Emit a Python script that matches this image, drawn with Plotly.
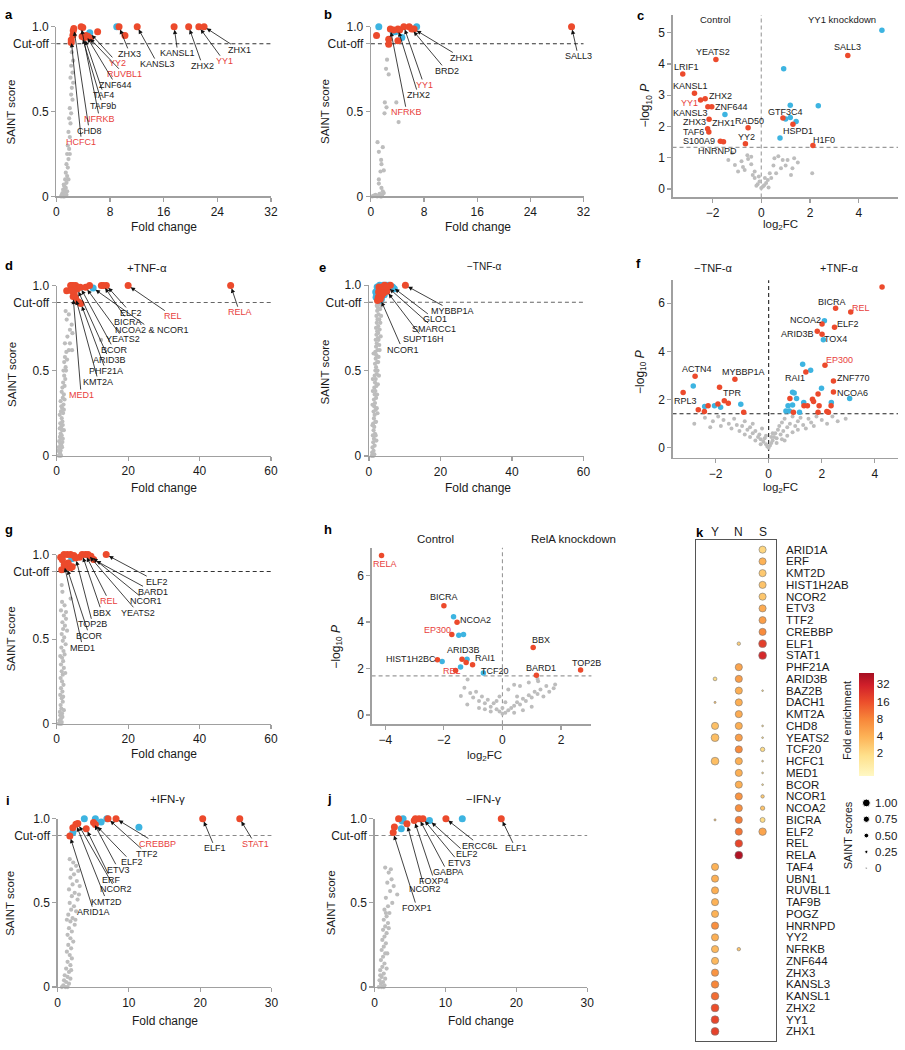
import math
import plotly.graph_objects as go

W, H = 905, 1050
FONT = "Liberation Sans, Arial, Helvetica, sans-serif"
RED = "#EC4A2C"
BLUE = "#3DB4E1"
GRAY = "#BDBDBD"
LRED = "#E8413B"
AXC = "#A0A0A0"
TXT = "#1a1a1a"

# ======================= DATA =======================
# ---- a : SAINT score vs fold change (control) ----
a_gray = [(2.3,0.85),(2.5,0.80),(2.2,0.77),(2.4,0.73),(2.1,0.70),(2.5,0.67),(2.3,0.64),(2.2,0.60),(2.4,0.57),
          (2.0,0.52),(2.2,0.49),(1.9,0.46),(2.1,0.43),(1.8,0.38),(2.0,0.35),(1.7,0.30),(1.9,0.28),(1.6,0.25),
          (1.8,0.22),(1.5,0.19),(1.7,0.17),(1.4,0.14),(1.6,0.12),(1.3,0.10),(1.5,0.08),(1.2,0.06),(1.4,0.05),
          (1.0,0.04),(1.3,0.03),(0.9,0.02),(1.1,0.01),(0.7,0.0),(1.0,0.0),(1.2,0.0),(1.5,0.01),(0.8,0.01),
          (1.6,0.03),(1.8,0.10),(1.1,0.07),(2.0,0.25)]
a_red = [(2.51,0.977),(2.60,0.99),(2.21,0.922),(2.21,0.907),(2.46,0.95),(3.69,1.0),(3.93,0.996),(3.83,0.942),
         (4.18,0.936),(4.42,0.948),(4.72,0.942),(5.06,0.932),(6.15,0.971),(9.34,1.0),(10.22,0.948),(12.05,1.0),
         (17.55,1.0),(19.72,1.0),(21.24,1.0),(22.02,1.0)]
a_blue = [(4.97,0.965),(9.0,1.0)]
a_labels = [("ZHX1",22.02,1.0),("YY1",21.24,1.0),("ZHX2",19.72,1.0),("KANSL1",17.55,1.0),("KANSL3",12.05,1.0),
            ("ZHX3",9.34,1.0),("YY2",4.97,0.965),("RUVBL1",4.72,0.942),("ZNF644",4.42,0.948),("TAF4",4.18,0.936),
            ("TAF9b",3.83,0.942),("NFRKB",3.69,1.0),("CHD8",2.60,0.99),("HCFC1",2.21,0.922)]
a_red_names = {"YY1","YY2","RUVBL1","NFRKB","HCFC1"}

# ---- b : SAINT (YY1 knockdown) ----
b_gray = [(2.43,0.806),(2.28,0.752),(2.68,0.719),(2.10,0.554),(2.35,0.525),(2.05,0.49),(3.83,0.554),(4.17,0.438),
          (1.0,0.32),(1.2,0.263),(1.79,0.29),(1.54,0.215),(1.59,0.19),(1.94,0.153),(1.45,0.147),(1.2,0.10),
          (1.2,0.076),(1.59,0.05),(1.79,0.03),(0.7,0.01),(0.2,0.0),(0.95,0.0),(1.45,0.0),(1.7,0.01),(1.94,0.02),
          (0.45,0.005),(1.3,0.015),(1.1,0.005),(1.6,0.0),(0.8,0.003)]
b_red = [(0.85,0.948),(2.68,0.926),(2.68,0.897),(2.93,0.986),(3.42,0.98),(4.07,0.986),(4.32,0.98),(4.07,0.917),
         (4.96,1.0),(5.76,1.0),(6.15,0.986),(6.5,0.986),(30.2,1.0)]
b_blue = [(1.19,1.0),(3.67,0.971),(3.32,0.971),(4.66,0.936),(6.89,1.0)]
b_labels = [("SALL3",30.2,1.0),("ZHX1",6.5,0.986),("BRD2",6.15,0.986),("YY1",4.96,1.0),("ZHX2",4.07,0.986),
            ("NFRKB",2.93,0.986)]
b_red_names = {"YY1","NFRKB"}

# ---- c : volcano Control vs YY1 knockdown ----
c_gray = [(-1.35,0.93),(-1.08,0.77),(-0.81,0.89),(-0.57,1.08),(-0.41,0.79),(-0.27,0.56),(-0.68,0.61),(-0.95,0.56),
          (-0.27,0.35),(-0.07,0.24),(0.07,0.08),(0.0,0.03),(0.2,0.19),(0.27,0.29),(0.41,0.35),(0.61,0.5),
          (0.81,0.66),(0.54,0.98),(0.88,0.93),(1.08,0.93),(1.35,0.98),(1.28,0.66),(1.22,0.45),(2.09,0.5),
          (-0.41,1.03),(-0.54,0.96),(-0.15,0.15),(0.12,0.12),(-0.35,0.45),(0.35,0.5),(0.5,0.75),(-0.2,0.1),
          (0.3,0.05),(-0.1,0.4),(0.15,0.35),(0.7,1.05),(1.0,0.75),(1.5,0.85),(-1.2,1.15),(-0.75,0.7)]
c_red = [(3.55,4.27),(-1.86,4.14),(-3.22,3.68),(-2.74,3.06),(-2.49,2.85),(-2.30,2.89),(-2.19,2.63),(-2.03,2.63),
         (-2.14,2.23),(-0.54,1.96),(-2.2,1.93),(-2.15,1.82),(-1.68,1.53),(-1.55,1.51),(-0.65,1.45),(0.89,2.27),
         (1.30,2.07),(2.12,1.39)]
c_blue = [(4.95,5.08),(0.92,3.85),(1.19,2.68),(2.34,2.66),(1.19,2.29),(1.0,2.24),(1.43,2.16),(0.77,1.63),(-1.49,2.38)]
c_labels = [("SALL3",3.55,4.53),("YEATS2",-1.96,4.38),("LRIF1",-3.08,3.89),("KANSL1",-2.92,3.28),("YY1",-2.93,2.74),
            ("ZHX2",-1.69,2.96),("ZNF644",-1.24,2.63),("KANSL3",-2.9,2.44),("ZHX3",-2.74,2.14),("ZHX1",-1.55,2.1),
            ("RAD50",-0.47,2.19),("TAF6",-2.77,1.81),("S100A9",-2.57,1.53),("YY2",-0.61,1.66),("HNRNPD",-1.78,1.22),
            ("GTF3C4",1.01,2.47),("HSPD1",1.51,1.87),("H1F0",2.57,1.56)]
c_red_names = {"YY1"}
c_cut = 1.33

# ---- d : SAINT +TNF-a ----
d_gray = [(2.5,0.85),(3.4,0.83),(2.8,0.8),(4.2,0.77),(3.7,0.74),(4.4,0.72),(3.7,0.66),(4.3,0.62),(3.4,0.62),
          (12.4,0.68),(2.3,0.58),(2.9,0.565),(2.5,0.52),(2.1,0.47),(2.4,0.45),(1.8,0.43),(2.2,0.41),(1.4,0.375),
          (2.0,0.36),(1.7,0.34),(1.1,0.32),(1.9,0.3),(1.5,0.28),(1.2,0.26),(1.8,0.25),(0.85,0.24),(1.4,0.22),
          (1.6,0.2),(1.0,0.19),(1.3,0.17),(0.85,0.16),(1.5,0.15),(1.1,0.13),(1.4,0.12),(0.9,0.11),(1.2,0.1),
          (0.7,0.085),(1.0,0.07),(1.3,0.06),(0.6,0.05),(0.9,0.04),(1.1,0.03),(0.5,0.03),(0.8,0.02),(1.0,0.01),
          (1.2,0.0),(0.6,0.0),(0.9,0.0),(1.5,0.05),(1.7,0.1),(2.0,0.15),(1.6,0.4),(2.6,0.5),(3.0,0.7),(2.3,0.66),
          (2.0,0.27),(1.7,0.18),(2.2,0.33),(1.3,0.29),(1.6,0.08),(2.7,0.61),(2.1,0.55),(1.9,0.5)]
d_red = [(2.8,0.97),(3.9,1.0),(4.3,1.0),(4.6,1.0),(5.3,1.0),(5.75,0.98),(6.6,0.99),(4.6,0.935),(5.27,0.93),
         (4.9,0.95),(6.0,0.905),(6.76,0.895),(8.1,0.99),(9.2,1.0),(12.5,1.0),(13.1,1.0),(13.9,1.0),(20.0,1.0),
         (48.7,1.0),(4.2,0.97)]
d_blue = [(10.2,0.985)]
d_labels = [("RELA",48.7,1.0),("REL",20.0,1.0),("ELF2",13.9,1.0),("BICRA",13.1,1.0),("NCOA2 & NCOR1",10.2,0.985),
            ("YEATS2",8.1,0.99),("BCOR",6.6,0.99),("ARID3B",5.75,0.98),("PHF21A",6.76,0.895),("KMT2A",5.27,0.93),
            ("MED1",4.6,0.935)]
d_red_names = {"RELA","REL","MED1"}

# ---- e : SAINT -TNF-a ----
e_gray = [(0.8,0.0),(1.2,0.0),(1.5,0.01),(0.9,0.02),(1.3,0.03),(1.0,0.05),(1.6,0.06),(1.2,0.08),(1.4,0.1),
          (1.1,0.12),(1.7,0.13),(1.3,0.15),(1.5,0.17),(1.2,0.19),(1.8,0.2),(1.4,0.22),(1.6,0.24),(1.3,0.26),
          (1.9,0.27),(1.5,0.29),(1.7,0.31),(1.4,0.33),(2.0,0.34),(1.6,0.36),(1.8,0.38),(1.5,0.4),(2.1,0.41),
          (1.7,0.43),(1.9,0.45),(1.6,0.47),(2.2,0.48),(1.8,0.5),(2.0,0.52),(1.7,0.54),(2.3,0.55),(1.9,0.57),
          (2.1,0.59),(1.8,0.61),(2.4,0.62),(2.0,0.64),(2.2,0.66),(1.9,0.68),(2.5,0.69),(2.1,0.71),(2.3,0.73),
          (2.0,0.75),(2.6,0.76),(2.2,0.78),(2.4,0.8),(2.1,0.82),(2.7,0.83),(2.3,0.85),(2.5,0.87),(2.2,0.88),
          (2.8,0.89),(1.0,0.3),(1.1,0.45),(1.3,0.6),(2.9,0.8),(3.1,0.86),(2.6,0.72),(2.9,0.65),(2.4,0.5),
          (3.2,0.78),(2.7,0.58),(2.5,0.42),(2.8,0.47),(2.3,0.36),(2.6,0.55),(3.0,0.62),(3.3,0.7),(2.7,0.68),
          (3.0,0.74),(3.4,0.82),(2.0,0.2),(2.2,0.28),(1.9,0.12),(2.4,0.25),(2.1,0.09),(1.0,0.18),(1.1,0.38),
          (3.5,0.88),(2.9,0.86)]
e_red = [(10.2,1.0),(6.0,1.0),(5.2,0.99),(4.6,0.98),(4.0,0.97),(3.5,0.96),(3.0,0.95),(2.6,0.93),(2.4,0.91),
         (3.2,0.92),(3.8,0.99),(4.4,1.0),(2.8,0.99),(3.4,0.975),(5.0,0.965),(2.7,0.96),(3.6,0.94),(4.1,0.955),
         (4.9,0.99)]
e_blue = [(1.9,0.96),(2.0,0.93),(2.3,0.99),(3.0,1.0),(4.0,1.0),(4.8,1.0),(5.6,1.0),(7.1,0.98),(6.6,0.99),
          (3.5,0.92),(2.2,0.95),(2.9,0.91),(4.3,0.945)]
e_labels = [("MYBBP1A",10.2,1.0),("GLO1",6.6,0.99),("SMARCC1",5.2,0.99),("SUPT16H",5.0,0.965),("NCOR1",3.2,0.92)]
e_red_names = set()

# ---- f : volcano -TNF vs +TNF ----
f_gray = [(-2.4,1.25),(-2.1,1.1),(-1.9,1.3),(-1.7,1.15),(-1.5,1.0),(-1.3,1.2),(-1.2,0.95),(-1.0,0.9),(-0.9,1.1),
          (-0.8,0.75),(-0.7,0.85),(-0.6,0.6),(-0.5,0.7),(-0.4,0.45),(-0.35,0.55),(-0.3,0.35),(-0.2,0.25),
          (-0.15,0.4),(-0.1,0.15),(-0.05,0.05),(0.0,0.0),(0.05,0.1),(0.1,0.2),(0.15,0.3),(0.2,0.45),(0.25,0.6),
          (0.3,0.4),(0.35,0.75),(0.4,0.9),(0.45,0.55),(0.5,1.05),(0.55,0.7),(0.6,1.2),(0.7,0.85),(0.8,1.0),
          (0.9,1.3),(1.0,0.9),(1.1,1.1),(1.2,1.25),(1.3,0.95),(1.5,1.2),(1.6,1.05),(1.8,1.3),(2.0,1.15),(2.2,1.0),
          (2.4,1.3),(2.6,1.1),(-1.1,0.7),(-0.9,0.55),(-0.7,0.45),(-0.5,0.3),(-0.3,0.15),(0.3,0.2),(0.5,0.35),
          (0.7,0.5),(0.9,0.65),(1.1,0.75),(1.4,0.8),(-1.4,0.8),(-1.8,0.9),(-2.2,0.85),(-0.25,0.8),(0.15,0.6),
          (-0.6,1.0),(0.6,0.3),(-0.1,0.5),(0.1,0.45),(1.7,0.9),(2.9,1.2),(-2.8,1.0)]
f_red = [(4.27,6.67),(2.52,5.79),(3.09,5.64),(2.01,5.14),(2.48,5.0),(1.83,4.84),(2.01,4.71),(2.12,3.42),(1.40,3.15),
         (2.44,2.77),(2.44,2.32),(1.86,2.23),(-2.77,2.97),(-1.27,2.84),(-1.85,2.51),(-3.22,2.29),(-1.67,1.95),
         (-1.52,1.85),(-1.91,1.82),(-2.28,1.74),(-2.65,1.58),(-2.42,1.51),(-0.94,1.47),(0.8,2.05),(0.93,1.47),
         (1.33,1.74),(1.46,1.74),(1.65,2.01),(1.69,1.92),(1.9,1.74),(1.86,1.47),(2.19,1.51),(2.25,1.47),(2.35,1.74)]
f_blue = [(2.06,4.48),(2.1,5.27),(1.28,3.47),(1.58,3.22),(3.05,2.05),(1.99,2.47),(-2.84,2.56),(-1.05,1.81),
          (-2.04,1.74),(-1.81,1.68),(-2.41,1.71),(0.9,2.3),(0.96,2.27),(1.05,2.05),(0.73,1.74),(0.9,1.78),
          (0.65,1.53),(0.78,1.53),(1.16,1.47),(1.32,1.88),(2.36,1.88)]
f_labels = [("RELA",4.26,7.03),("BICRA",2.37,6.07),("REL",3.48,5.79),("NCOA2",1.38,5.3),("ELF2",2.99,5.14),
            ("ARID3B",1.07,4.73),("TOX4",2.52,4.52),("EP300",2.68,3.66),("RAI1",0.99,2.88),("ZNF770",3.2,2.88),
            ("NCOA6",3.15,2.29),("ACTN4",-2.69,3.26),("MYBBP1A",-0.94,3.15),("TPR",-1.37,2.26),("RPL3",-3.12,1.96)]
f_red_names = {"RELA","REL","EP300"}
f_cut = 1.41

# ---- g : SAINT (second bait) ----
g_gray = [(1.4,0.82),(1.6,0.78),(3.9,0.74),(1.5,0.72),(2.2,0.7),(1.2,0.67),(2.0,0.64),(2.6,0.62),(1.6,0.6),
          (2.3,0.58),(1.8,0.56),(2.9,0.55),(1.4,0.53),(2.1,0.51),(1.7,0.49),(2.5,0.47),(1.3,0.45),(1.9,0.43),
          (2.2,0.41),(1.5,0.39),(1.8,0.37),(1.2,0.35),(2.0,0.33),(1.4,0.31),(1.7,0.29),(1.1,0.27),(1.5,0.25),
          (1.9,0.23),(1.2,0.21),(1.6,0.19),(1.0,0.17),(1.4,0.15),(1.7,0.13),(1.1,0.11),(1.3,0.09),(0.9,0.07),
          (1.5,0.06),(1.0,0.05),(1.2,0.03),(0.8,0.02),(1.4,0.01),(0.6,0.0),(1.0,0.0),(1.3,0.0),(1.6,0.04),
          (2.0,0.08),(1.8,0.16),(2.4,0.3),(1.0,0.4),(2.6,0.66)]
g_red = [(1.11,0.985),(2.04,1.0),(2.96,1.0),(3.89,1.0),(4.81,0.994),(1.4,0.91),(2.6,0.942),(3.4,0.936),(3.89,0.922),
         (4.35,0.928),(2.8,0.925),(3.2,0.95),(6.38,0.985),(7.12,1.0),(8.04,1.0),(8.78,1.0),(9.6,0.99),(10.35,0.971),
         (13.86,1.0),(1.6,0.97),(5.3,0.98),(2.1,0.94)]
g_blue = [(4.2,0.975)]
g_labels = [("ELF2",13.86,1.0),("BARD1",10.35,0.971),("NCOR1",9.6,0.99),("REL",8.04,1.0),("YEATS2",8.78,1.0),
            ("BBX",7.12,1.0),("TOP2B",5.3,0.98),("BCOR",2.8,0.925),("MED1",2.1,0.94)]
g_red_names = {"REL"}

# ---- h : volcano Control vs RelA knockdown ----
h_gray = [(-1.42,0.82),(-1.3,1.17),(-1.19,1.53),(-1.1,0.95),(-1.0,0.75),(-0.9,1.0),(-0.8,0.6),(-0.7,0.8),
          (-0.6,0.5),(-0.5,0.65),(-0.4,0.35),(-0.3,0.5),(-0.2,0.25),(-0.1,0.15),(0.0,0.05),(0.1,0.1),(0.2,0.2),
          (0.3,0.3),(0.4,0.4),(0.5,0.55),(0.6,0.45),(0.7,0.7),(0.8,0.6),(0.9,0.85),(1.0,0.75),(1.1,1.0),(1.2,0.9),
          (1.3,1.1),(1.4,0.8),(1.5,1.25),(1.6,1.0),(1.75,1.15),(1.8,1.31),(1.22,1.45),(0.6,1.25),(0.4,1.3),
          (0.2,1.1),(0.9,1.4),(1.2,1.55),(-0.2,0.6),(0.0,0.3),(-0.4,0.15),(0.4,0.1),(-0.6,0.25),(0.7,0.2),
          (0.1,0.55),(-0.1,0.8),(0.5,0.8),(-0.8,0.3),(1.0,0.35),(-1.2,0.45)]
h_red = [(-4.13,6.85),(-2.0,4.69),(-1.55,3.99),(-1.73,3.46),(-2.22,2.37),(-1.38,2.40),(-1.24,2.26),(-1.02,2.16),
         (-1.6,1.91),(1.05,2.90),(1.16,1.71),(2.67,1.93)]
h_blue = [(-1.67,4.22),(-1.49,3.43),(-1.33,3.46),(-2.06,2.30),(-1.21,2.40),(-1.43,2.06),(-0.65,1.81)]
h_labels = [("RELA",-4.0,6.47),("BICRA",-2.0,5.06),("NCOA2",-0.93,4.07),("EP300",-2.23,3.67),("ARID3B",-1.33,2.8),
            ("HIST1H2BC",-3.11,2.4),("RAI1",-0.59,2.44),("REL",-1.72,1.88),("TCF20",-0.25,1.88),("BBX",1.31,3.22),
            ("BARD1",1.31,2.02),("TOP2B",2.88,2.23)]
h_red_names = {"RELA","EP300","REL"}
h_cut = 1.68

# ---- i : SAINT +IFN-g ----
i_gray = [(1.7,0.76),(2.2,0.74),(2.6,0.72),(1.9,0.7),(2.9,0.69),(2.3,0.67),(1.8,0.65),(2.7,0.63),(2.1,0.61),
          (3.1,0.6),(1.6,0.58),(2.4,0.56),(2.0,0.54),(2.8,0.52),(1.7,0.5),(2.3,0.48),(1.9,0.46),(2.6,0.45),
          (1.5,0.43),(2.1,0.41),(1.8,0.39),(2.4,0.37),(1.6,0.35),(2.0,0.33),(1.4,0.31),(1.8,0.29),(2.2,0.27),
          (1.5,0.25),(1.9,0.23),(1.3,0.21),(1.7,0.19),(2.0,0.17),(1.4,0.15),(1.8,0.13),(1.2,0.11),(1.6,0.09),
          (1.0,0.07),(1.4,0.06),(1.8,0.05),(0.9,0.04),(1.2,0.03),(1.6,0.02),(0.8,0.01),(1.1,0.0),(1.4,0.0),
          (0.6,0.0),(1.9,0.1),(2.5,0.4),(3.0,0.55),(1.3,0.4)]
i_red = [(1.72,0.898),(2.14,0.947),(2.57,0.967),(2.84,0.971),(4.02,0.94),(5.04,0.977),(5.3,0.965),(7.07,1.0),
         (8.2,1.0),(20.36,1.0),(25.56,1.0)]
i_blue = [(2.14,0.918),(3.75,1.0),(5.3,1.0),(6.11,0.98),(6.91,1.0),(11.41,0.95)]
i_labels = [("STAT1",25.56,1.0),("ELF1",20.36,1.0),("CREBBP",8.2,1.0),("TTF2",7.07,1.0),("ELF2",5.3,0.965),
            ("ETV3",5.04,0.977),("ERF",4.02,0.94),("NCOR2",2.84,0.971),("KMT2D",2.57,0.967),("ARID1A",1.72,0.898)]
i_red_names = {"STAT1","CREBBP"}

# ---- j : SAINT -IFN-g ----
j_gray = [(1.5,0.71),(2.0,0.68),(2.4,0.64),(1.8,0.62),(2.7,0.6),(2.2,0.57),(3.2,0.55),(1.6,0.53),(2.5,0.5),
          (1.9,0.48),(1.4,0.46),(2.1,0.44),(1.7,0.42),(1.3,0.4),(1.9,0.38),(1.5,0.36),(1.2,0.34),(1.7,0.32),
          (1.4,0.3),(1.1,0.28),(1.6,0.26),(1.3,0.24),(1.0,0.22),(1.5,0.2),(1.2,0.18),(0.9,0.16),(1.4,0.14),
          (1.1,0.12),(1.7,0.11),(0.8,0.1),(1.3,0.08),(1.0,0.06),(1.5,0.05),(0.7,0.04),(1.2,0.03),(0.9,0.02),
          (1.4,0.01),(0.6,0.0),(1.0,0.0),(1.3,0.0),(1.8,0.2),(2.0,0.35),(1.6,0.44),(2.3,0.7),(0.8,0.07)]
j_red = [(2.63,0.918),(2.8,0.951),(3.39,1.0),(4.57,0.97),(5.76,1.0),(6.29,1.0),(6.83,1.0),(5.6,0.99),
         (10.07,1.0),(17.88,1.0)]
j_blue = [(3.77,0.94),(3.9,0.986),(4.03,1.0),(7.75,0.99),(12.38,1.0)]
j_labels = [("ELF1",17.88,1.0),("ERCC6L",10.07,1.0),("ELF2",7.75,0.99),("ETV3",6.83,1.0),("GABPA",6.29,1.0),
            ("FOXP4",5.6,0.99),("NCOR2",4.57,0.97),("FOXP1",2.63,0.918)]
j_red_names = set()

# ---- k : dot plot (Y = YY1, N = NF-kB, S = STAT1) ----
k_columns = ["Y", "N", "S"]
k_genes = ["ARID1A","ERF","KMT2D","HIST1H2AB","NCOR2","ETV3","TTF2","CREBBP","ELF1","STAT1",
           "PHF21A","ARID3B","BAZ2B","DACH1","KMT2A","CHD8","YEATS2","TCF20","HCFC1","MED1",
           "BCOR","NCOR1","NCOA2","BICRA","ELF2","REL","RELA","TAF4","UBN1","RUVBL1",
           "TAF9B","POGZ","HNRNPD","YY2","NFRKB","ZNF644","ZHX3","KANSL3","KANSL1","ZHX2",
           "YY1","ZHX1"]
k_Y_score = [None,None,None,None,None,None,None,None,None,None,
             None,0.35,None,0.08,None,0.9,1.0,None,1.0,None,
             None,None,None,0.08,None,None,None,0.9,0.9,0.9,
             0.9,0.9,0.92,0.9,0.9,0.9,0.92,0.95,0.97,1.0,
             1.0,1.0]
k_Y_fe = [None,None,None,None,None,None,None,None,None,None,
          None,2.0,None,3.0,None,3.2,3.3,None,3.3,None,
          None,None,None,3.0,None,None,None,4.0,4.2,4.3,
          4.0,4.0,7.0,4.2,3.6,3.6,6.5,8.0,11.0,16.0,
          18.0,19.0]
k_N_score = [None,None,None,None,None,None,None,None,0.3,None,
             0.9,0.9,0.9,0.9,0.9,0.9,0.9,0.9,0.9,0.9,
             0.9,0.9,0.9,0.9,0.9,0.95,1.0,None,None,None,
             None,None,None,None,0.3,None,None,None,None,None,
             None,None]
k_N_fe = [None,None,None,None,None,None,None,None,2.5,None,
          5.0,5.5,4.3,4.3,4.5,4.3,5.5,7.5,4.2,4.2,
          4.2,6.5,7.0,9.0,10.0,18.0,45.0,None,None,None,
          None,None,None,None,3.0,None,None,None,None,None,
          None,None]
k_S_score = [0.9,0.9,0.9,0.9,0.9,0.9,0.9,0.9,1.0,1.0,
             None,None,0.02,None,None,0.03,0.03,0.45,0.03,0.03,
             0.03,0.3,0.45,0.55,0.95,None,None,None,None,None,
             None,None,None,None,None,None,None,None,None,None,
             None,None]
k_S_fe = [2.2,4.0,2.8,3.0,2.9,4.5,5.5,7.5,20.0,28.0,
          None,None,2.0,None,None,2.0,2.0,2.0,2.0,2.0,
          2.0,2.8,3.0,2.0,5.0,None,None,None,None,None,
          None,None,None,None,None,None,None,None,None,None,
          None,None]
k_cbar_vals = [2, 4, 8, 16, 32]
k_size_legend = [1.00, 0.75, 0.50, 0.25, 0]
k_size_legend_txt = ["1.00", "0.75", "0.50", "0.25", "0"]

# ======================= LAYOUT / HELPERS =======================
layout = dict(width=W, height=H, margin=dict(l=0, r=0, t=0, b=0), paper_bgcolor="white",
              plot_bgcolor="white", showlegend=False, font=dict(family=FONT, color=TXT))
traces, annots, shapes = [], [], []


def names(n):
    s = "" if n == 1 else str(n)
    return "x" + s, "y" + s, "xaxis" + s, "yaxis" + s


def add_axes(n, xb, yb, xr, yr, xt, xtt, yt, ytt):
    xn, yn, xk, yk = names(n)
    base = dict(showgrid=False, zeroline=False, fixedrange=True, showline=True, linecolor=AXC,
                linewidth=1.2, ticks="outside", ticklen=4, tickwidth=1.2, tickcolor=AXC,
                tickfont=dict(family=FONT, size=12, color=TXT), tickmode="array")
    layout[xk] = dict(base, domain=[xb[0] / W, xb[1] / W], range=xr, anchor=yn, tickvals=xt, ticktext=xtt)
    layout[yk] = dict(base, domain=[1 - yb[1] / H, 1 - yb[0] / H], range=yr, anchor=xn, tickvals=yt, ticktext=ytt)


def add_pts(n, pts, color, size):
    xn, yn, _, _ = names(n)
    traces.append(go.Scatter(x=[p[0] for p in pts], y=[p[1] for p in pts], xaxis=xn, yaxis=yn, mode="markers",
                             marker=dict(color=color, size=size, opacity=1, line=dict(width=0)), cliponaxis=False,
                             hoverinfo="skip", showlegend=False))


def px_text(text, x, y, size=12, angle=0, color=TXT, xanchor="center", yanchor="middle"):
    annots.append(dict(xref="paper", yref="paper", x=x / W, y=1 - y / H, text=text, showarrow=False,
                       font=dict(family=FONT, size=size, color=color), textangle=angle,
                       xanchor=xanchor, yanchor=yanchor))


def arrow_label(n, text, tx, ty, x, y, color):
    xn, yn, _, _ = names(n)
    annots.append(dict(xref=xn, yref=yn, axref=xn, ayref=yn, x=x, y=y, ax=tx, ay=ty, text=text,
                       showarrow=True, arrowhead=2, arrowsize=1.1, arrowwidth=0.8, arrowcolor="#111",
                       standoff=3, borderpad=0, font=dict(family=FONT, size=9, color=color)))


def data_label(n, text, x, y, color):
    xn, yn, _, _ = names(n)
    annots.append(dict(xref=xn, yref=yn, x=x, y=y, text=text, showarrow=False,
                       font=dict(family=FONT, size=9, color=color)))


def saint_panel(n, xb, yb, xmax, xt, gray, red, blue, labels, label_xy, red_names, cut_color):
    add_axes(n, xb, yb, [0, xmax], [0, 1], xt, [str(v) for v in xt],
             [0, 0.5, 0.9, 1.0], ["0", "0.5", "Cut-off", "1.0"])
    xn, yn, _, _ = names(n)
    shapes.append(dict(type="line", xref=xn + " domain", yref=yn, x0=0, x1=1, y0=0.9, y1=0.9, layer="below",
                       line=dict(color=cut_color, width=1.1, dash="4px,3px")))
    add_pts(n, gray, GRAY, 4.2)
    add_pts(n, blue, BLUE, 7)
    add_pts(n, red, RED, 7)
    for (name, x, y), (tx, ty) in zip(labels, label_xy):
        arrow_label(n, name, tx, ty, x, y, LRED if name in red_names else TXT)


def volcano_panel(n, xb, yb, xr, yr, xt, yt, cut, line_color, gray, red, blue, labels, red_names):
    xtt = [("−" + str(-v)) if v < 0 else str(v) for v in xt]
    add_axes(n, xb, yb, xr, yr, xt, xtt, yt, [str(v) for v in yt])
    xn, yn, _, _ = names(n)
    shapes.append(dict(type="line", xref=xn + " domain", yref=yn, x0=0, x1=1, y0=cut, y1=cut, layer="below",
                       line=dict(color=line_color, width=1.1, dash="4px,3px")))
    shapes.append(dict(type="line", xref=xn, yref=yn + " domain", x0=0, x1=0, y0=0, y1=1, layer="below",
                       line=dict(color=line_color, width=1.1, dash="4px,3px")))
    add_pts(n, gray, GRAY, 4)
    add_pts(n, blue, BLUE, 5.5)
    add_pts(n, red, RED, 5.5)
    for name, x, y in labels:
        data_label(n, name, x, y, LRED if name in red_names else TXT)


# ---- label text positions (layout, in data units of each panel) ----
a_label_xy = [(27.3,0.865),(25.0,0.797),(21.8,0.77),(18.1,0.845),(15.1,0.78),(10.96,0.84),(9.1,0.787),
              (10.1,0.72),(8.85,0.657),(7.08,0.597),(6.9,0.535),(6.44,0.457),(4.9,0.387),(3.74,0.32)]
b_label_xy = [(31.2,0.826),(13.7,0.816),(11.4,0.74),(8.0,0.657),(7.14,0.597),(5.4,0.496)]
d_label_xy = [(51.2,0.843),(32.5,0.82),(20.8,0.839),(20.05,0.787),(26.7,0.739),(18.7,0.685),(16.07,0.622),
              (14.7,0.565),(13.8,0.497),(11.7,0.433),(6.84,0.356)]
e_label_xy = [(23.4,0.849),(18.5,0.80),(18.3,0.746),(15.2,0.685),(9.4,0.623)]
g_label_xy = [(28.1,0.84),(27.0,0.78),(25.1,0.724),(14.7,0.724),(22.8,0.656),(12.7,0.656),(10.1,0.588),
              (9.14,0.52),(7.3,0.45)]
i_label_xy = [(27.7,0.85),(22.1,0.824),(14.0,0.85),(12.6,0.79),(10.4,0.742),(8.57,0.697),(7.5,0.639),
              (8.14,0.58),(6.9,0.508),(5.1,0.445)]
j_label_xy = [(19.9,0.824),(14.9,0.84),(13.0,0.79),(11.95,0.739),(10.3,0.683),(8.45,0.63),(7.1,0.58),(6.0,0.469)]

CUTD = "#333333"
saint_panel(1, (54, 271), (20, 192), 32, [0, 8, 16, 24, 32], a_gray, a_red, a_blue, a_labels, a_label_xy, a_red_names, CUTD)
saint_panel(2, (372, 587), (20, 192), 32, [0, 8, 16, 24, 32], b_gray, b_red, b_blue, b_labels, b_label_xy, b_red_names, CUTD)
volcano_panel(3, (677, 905), (8, 193), [-3.64, 5.61], [-0.27, 5.57], [-2, 0, 2, 4], [0, 1, 2, 3, 4, 5], c_cut, "#9a9a9a",
              c_gray, c_red, c_blue, c_labels, c_red_names)
saint_panel(4, (54.3, 271), (282.3, 454.7), 60, [0, 20, 40, 60], d_gray, d_red, d_blue, d_labels, d_label_xy, d_red_names, "#666666")
saint_panel(5, (370, 587), (282, 455), 60, [0, 20, 40, 60], e_gray, e_red, e_blue, e_labels, e_label_xy, e_red_names, "#666666")
volcano_panel(6, (677, 905), (277, 457), [-3.62, 4.87], [-0.42, 6.95], [-2, 0, 2, 4], [0, 2, 4, 6], f_cut, "#222222",
              f_gray, f_red, f_blue, f_labels, f_red_names)
saint_panel(7, (54.3, 271), (555, 726.4), 60, [0, 20, 40, 60], g_gray, g_red, g_blue, g_labels, g_label_xy, g_red_names, CUTD)
volcano_panel(8, (372.7, 595), (548, 727), [-4.47, 3.04], [-0.4, 7.19], [-4, -2, 0, 2], [0, 2, 4, 6], h_cut, "#9a9a9a",
              h_gray, h_red, h_blue, h_labels, h_red_names)
saint_panel(9, (55.2, 271.4), (822.7, 993.3), 30, [0, 10, 20, 30], i_gray, i_red, i_blue, i_labels, i_label_xy, i_red_names, "#8a8a8a")
saint_panel(10, (375.7, 590.7), (822.7, 993.3), 30, [0, 10, 20, 30], j_gray, j_red, j_blue, j_labels, j_label_xy, j_red_names, "#8a8a8a")

# ---- panel k ----
def dot_size(s):
    return 1.6 + 6.2 * s

CMIN, CMAX = -0.29, 5.68
COLORSCALE = [[0.0, "#FFF8C4"], [0.2, "#FEE08B"], [0.38, "#FDB357"], [0.55, "#F7873A"],
              [0.72, "#EC4E2B"], [0.88, "#D1202A"], [1.0, "#A50F22"]]
kx, ky, kc, ks = [], [], [], []
for ci, (scores, fes) in enumerate([(k_Y_score, k_Y_fe), (k_N_score, k_N_fe), (k_S_score, k_S_fe)]):
    for ri, (s, fe) in enumerate(zip(scores, fes)):
        if s is None:
            continue
        kx.append(ci)
        ky.append(ri)
        kc.append(math.log2(fe))
        ks.append(dot_size(s))

layout["xaxis11"] = dict(domain=[701 / W, 782 / W], range=[-0.79, 2.58], anchor="y11", showgrid=False,
                         zeroline=False, showline=True, mirror=True, linecolor="#555", linewidth=1,
                         ticks="", showticklabels=False, fixedrange=True)
layout["yaxis11"] = dict(domain=[1 - 1048 / H, 1 - 540.7 / H], range=[41.82, -0.78], anchor="x11", showgrid=False,
                         zeroline=False, showline=True, mirror=True, linecolor="#555", linewidth=1,
                         ticks="", showticklabels=False, fixedrange=True)
traces.append(go.Scatter(
    x=kx, y=ky, xaxis="x11", yaxis="y11", mode="markers", cliponaxis=False, hoverinfo="skip", showlegend=False,
    marker=dict(size=ks, color=kc, colorscale=COLORSCALE, cmin=CMIN, cmax=CMAX, showscale=True, opacity=1,
                line=dict(color="#7a7a7a", width=0.6),
                colorbar=dict(x=866 / W, xanchor="left", y=1 - 726.7 / H, yanchor="middle",
                              len=103.3, lenmode="pixels", thickness=15, thicknessmode="pixels",
                              xpad=0, ypad=0, outlinewidth=0, ticks="", tickmode="array",
                              tickvals=[math.log2(v) for v in k_cbar_vals],
                              ticktext=[str(v) for v in k_cbar_vals],
                              tickfont=dict(family=FONT, size=11.5, color=TXT)))))
for ci, col in enumerate(k_columns):
    px_text(col, [720, 743.5, 768.3][ci], 531.7, size=12)
for ri, g in enumerate(k_genes):
    annots.append(dict(xref="paper", yref="y11", x=790 / W, y=ri, text=g, showarrow=False, xanchor="left",
                       yanchor="middle", font=dict(family=FONT, size=11.5, color=TXT)))

# size legend
layout["xaxis12"] = dict(domain=[866 / W, 880 / W], range=[0, 1], anchor="y12", visible=False, fixedrange=True)
layout["yaxis12"] = dict(domain=[1 - 880 / H, 1 - 800 / H], range=[-0.109, 1.101], anchor="x12", visible=False,
                         fixedrange=True)
traces.append(go.Scatter(x=[0.5] * len(k_size_legend), y=k_size_legend, xaxis="x12", yaxis="y12", mode="markers",
                         marker=dict(size=[dot_size(s) for s in k_size_legend], color="black", opacity=1),
                         cliponaxis=False, hoverinfo="skip", showlegend=False))
for s, t in zip(k_size_legend, k_size_legend_txt):
    annots.append(dict(xref="paper", yref="y12", x=880 / W, y=s, text=t, showarrow=False, xanchor="left",
                       yanchor="middle", font=dict(family=FONT, size=11.5, color=TXT)))
px_text("SAINT scores", 854, 840, size=11, angle=-90)
px_text("Fold enrichment", 854, 723, size=11, angle=-90)

# ---- panel letters ----
for t, x, y in [("a", 0, -2), ("b", 323, -2), ("c", 639, -1), ("d", 0, 252), ("e", 318, 254), ("f", 638, 250),
                ("g", 0, 520), ("h", 323, 520), ("i", 1, 795), ("j", 326, 793), ("k", 699, 523)]:
    annots.append(dict(xref="paper", yref="paper", x=x / W, y=1 - y / H, text="<b>%s</b>" % t, showarrow=False,
                       xanchor="left", yanchor="top", font=dict(family=FONT, size=13, color="black")))

# ---- axis titles ----
for x, y in [(163, 223), (480, 223), (163, 487), (480, 487), (163, 757), (164, 1028), (483, 1028)]:
    px_text("Fold change", x, y, size=12)
for x, y in [(786, 221), (786, 488), (487, 759)]:
    px_text("log<sub>2</sub>FC", x, y, size=11.5)
for x, y in [(8, 106), (325, 106), (9, 372), (326, 370), (9, 640), (7, 908), (332, 908)]:
    px_text("SAINT score", x, y, size=11.5, angle=-90)
for x, y in [(650, 100), (645, 370), (338, 648)]:
    px_text("−log<sub>10</sub> <i>P</i>", x, y, size=12, angle=-90)

# ---- panel titles ----
px_text("Control", 720, 13, size=9.5)
px_text("YY1 knockdown", 848, 13, size=9.5)
px_text("+TNF-α", 146, 265, size=11.5)
px_text("−TNF-α", 487, 263, size=10)
px_text("−TNF-α", 718, 265, size=11)
px_text("+TNF-α", 845, 265, size=11)
px_text("Control", 437, 539, size=11.5)
px_text("RelA knockdown", 577, 539, size=11.5)
px_text("+IFN-γ", 166, 803, size=11.5)
px_text("−IFN-γ", 486, 803, size=11.5)

layout["annotations"] = annots
layout["shapes"] = shapes
fig = go.Figure(data=traces, layout=layout)
fig.write_html("out.html", config={"displayModeBar": False, "staticPlot": True},
               post_script="document.body.style.margin='0px';document.body.style.overflow='hidden';")
